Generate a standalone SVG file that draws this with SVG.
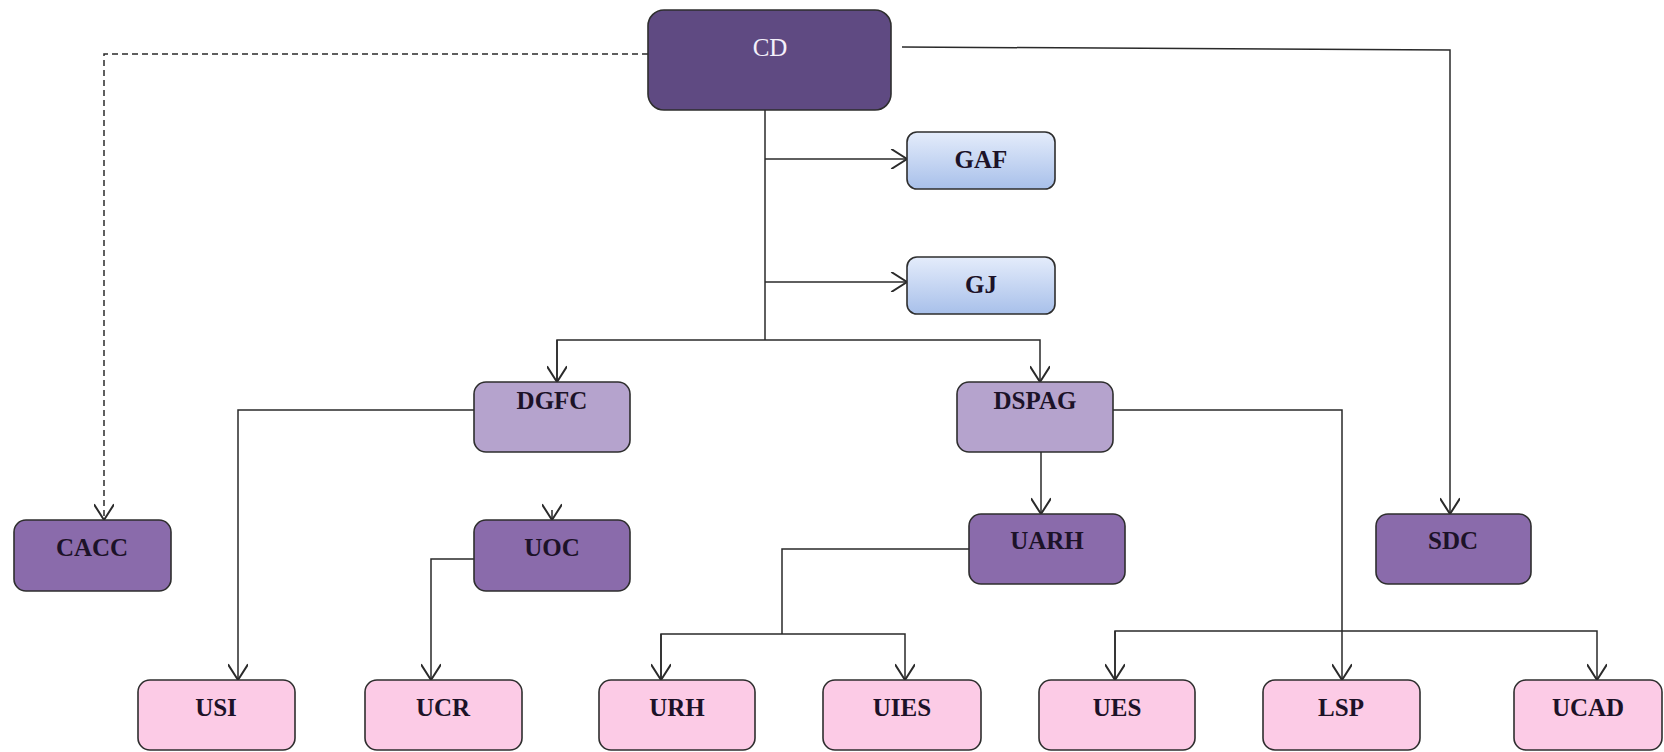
<svg xmlns="http://www.w3.org/2000/svg" width="1664" height="752" viewBox="0 0 1664 752">
<defs>
<linearGradient id="blue" x1="0" y1="0" x2="0" y2="1">
<stop offset="0" stop-color="#e4ecfb"/>
<stop offset="1" stop-color="#a8c0ea"/>
</linearGradient>
<marker id="arr" markerUnits="userSpaceOnUse" markerWidth="20" markerHeight="20" viewBox="0 0 12 14" refX="11" refY="7" orient="auto">
<path d="M0,0 L11,7 L0,14" fill="none" stroke="#2a2a2a" stroke-width="1.4"/>
</marker>
</defs>
<style>
.n rect{stroke:#2e2e2e;stroke-width:1.6}
.dark{fill:#5f4a82}
.mid{fill:#8a6bab}
.light{fill:#b5a3cd}
.pink{fill:#fccbe6}
.blue{fill:url(#blue)}
text{font-family:"Liberation Serif","Times New Roman",serif;font-size:25px;font-weight:bold;fill:#1c1228;text-anchor:middle}
.w{fill:#f4f0fa;font-weight:normal}
.c path{fill:none;stroke:#2a2a2a;stroke-width:1.5}
.c .dash{stroke-dasharray:6 4}
</style>
<rect width="1664" height="752" fill="#ffffff"/>
<g class="c" id="connectors">
<path class="dash" d="M648,54 H104 V520" marker-end="url(#arr)"/>
<path d="M902,47 L1450,50 V514" marker-end="url(#arr)"/>
<path d="M765,110 V340"/>
<path d="M765,159 H907" marker-end="url(#arr)"/>
<path d="M765,282 H907" marker-end="url(#arr)"/>
<path d="M557,380 V340 H1040 V382" marker-end="url(#arr)"/>
<path d="M557,340 V382" marker-end="url(#arr)"/>
<path d="M474,410 H238 V680" marker-end="url(#arr)"/>
<path d="M552,510 V520" marker-end="url(#arr)"/>
<path d="M474,559 H431 V680" marker-end="url(#arr)"/>
<path d="M1041,452 V514" marker-end="url(#arr)"/>
<path d="M969,549 H782 V634"/>
<path d="M661,680 V634 H905 V680" marker-end="url(#arr)"/>
<path d="M661,634 V680" marker-end="url(#arr)"/>
<path d="M1113,410 H1342 V680" marker-end="url(#arr)"/>
<path d="M1115,680 V631 H1597 V680" marker-end="url(#arr)"/>
<path d="M1115,631 V680" marker-end="url(#arr)"/>
</g>
<g class="n" id="CD"><rect class="dark" x="648" y="10" width="243" height="100" rx="16"/><text class="w" x="770" y="56">CD</text></g>
<g class="n" id="GAF"><rect class="blue" x="907" y="132" width="148" height="57" rx="10"/><text x="981" y="168">GAF</text></g>
<g class="n" id="GJ"><rect class="blue" x="907" y="257" width="148" height="57" rx="10"/><text x="981" y="293">GJ</text></g>
<g class="n" id="DGFC"><rect class="light" x="474" y="382" width="156" height="70" rx="12"/><text x="552" y="409">DGFC</text></g>
<g class="n" id="DSPAG"><rect class="light" x="957" y="382" width="156" height="70" rx="12"/><text x="1035" y="409">DSPAG</text></g>
<g class="n" id="CACC"><rect class="mid" x="14" y="520" width="157" height="71" rx="12"/><text x="92" y="556">CACC</text></g>
<g class="n" id="UOC"><rect class="mid" x="474" y="520" width="156" height="71" rx="12"/><text x="552" y="556">UOC</text></g>
<g class="n" id="UARH"><rect class="mid" x="969" y="514" width="156" height="70" rx="12"/><text x="1047" y="549">UARH</text></g>
<g class="n" id="SDC"><rect class="mid" x="1376" y="514" width="155" height="70" rx="12"/><text x="1453" y="549">SDC</text></g>
<g class="n" id="USI"><rect class="pink" x="138" y="680" width="157" height="70" rx="12"/><text x="216" y="716">USI</text></g>
<g class="n" id="UCR"><rect class="pink" x="365" y="680" width="157" height="70" rx="12"/><text x="443" y="716">UCR</text></g>
<g class="n" id="URH"><rect class="pink" x="599" y="680" width="156" height="70" rx="12"/><text x="677" y="716">URH</text></g>
<g class="n" id="UIES"><rect class="pink" x="823" y="680" width="158" height="70" rx="12"/><text x="902" y="716">UIES</text></g>
<g class="n" id="UES"><rect class="pink" x="1039" y="680" width="156" height="70" rx="12"/><text x="1117" y="716">UES</text></g>
<g class="n" id="LSP"><rect class="pink" x="1263" y="680" width="157" height="70" rx="12"/><text x="1341" y="716">LSP</text></g>
<g class="n" id="UCAD"><rect class="pink" x="1514" y="680" width="148" height="70" rx="12"/><text x="1588" y="716">UCAD</text></g>
</svg>
